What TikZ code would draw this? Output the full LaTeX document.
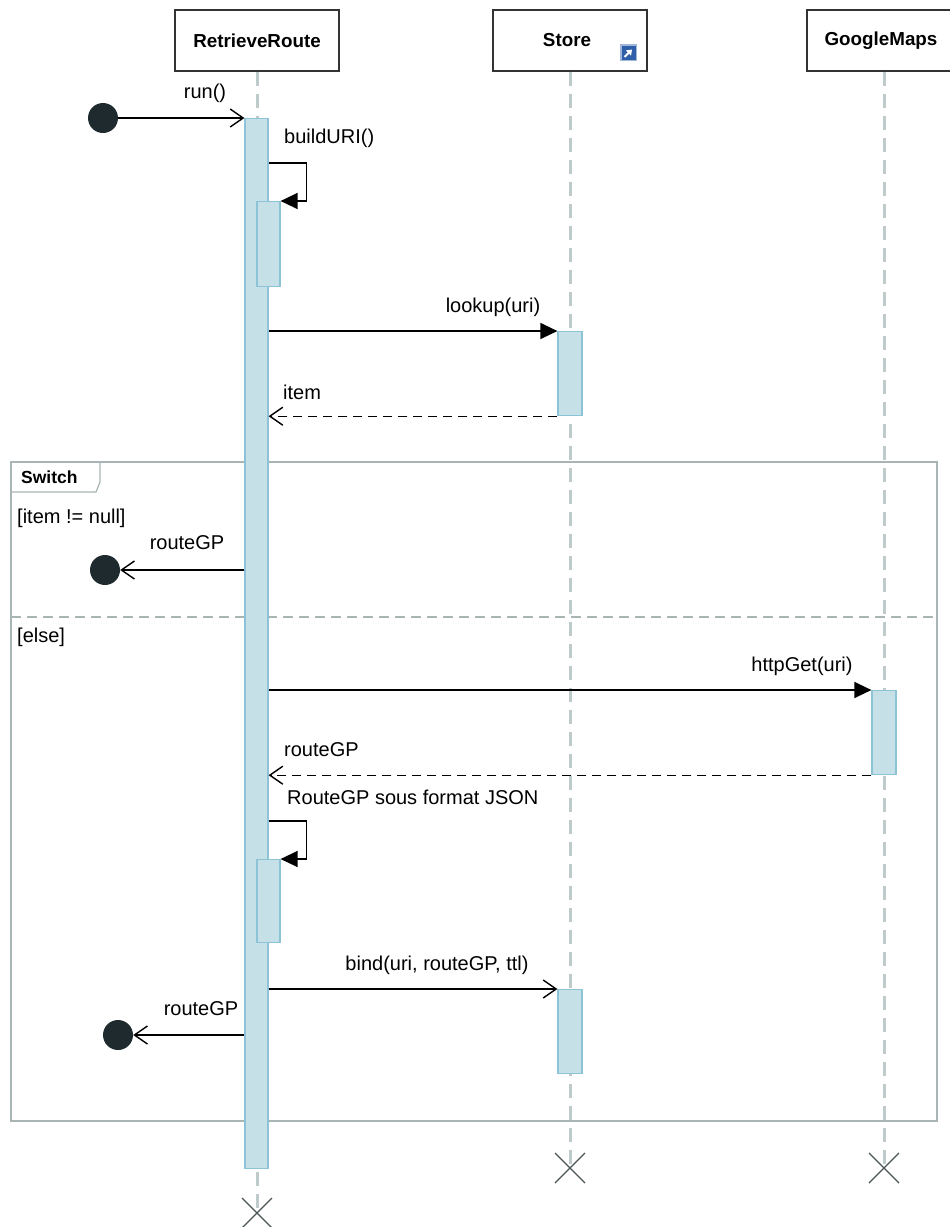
\documentclass[tikz,border=0pt]{standalone}
\usepackage{fontspec}
\setmainfont{Liberation Sans}
\usetikzlibrary{arrows.meta}
\definecolor{actfill}{HTML}{C5E1E7}
\definecolor{actdraw}{HTML}{8DC3D6}
\definecolor{lifeln}{HTML}{BFCACA}
\definecolor{framec}{HTML}{A9B5B5}
\definecolor{dotc}{HTML}{1E2A2E}
\definecolor{xc}{HTML}{4A5454}
\definecolor{iconblue}{HTML}{2E5FA8}
\begin{document}
\begin{tikzpicture}[x=1pt,y=-1pt,
  lbl/.style={font=\fontsize{20}{23}\selectfont, inner sep=0pt},
  hdr/.style={draw=black!80, line width=1.4pt, fill=white, minimum height=61pt, inner sep=0pt, font=\fontsize{18.8}{21}\selectfont\bfseries},
  lifeline/.style={draw=lifeln, line width=3pt, dash pattern=on 14pt off 8pt},
  actbox/.style={draw=actdraw, fill=actfill, line width=1.2pt, inner sep=0pt, anchor=north},
  sync/.style={draw=black, line width=1.4pt, -{Triangle[length=17pt,width=16pt]}},
  open/.style={draw=black, line width=1.4pt, -{Straight Barb[length=13pt,width=18pt,line width=1.4pt]}},
  ret/.style={open, dash pattern=on 9pt off 6pt},
  dot/.style={circle, fill=dotc, minimum size=30pt, inner sep=0pt},
  xline/.style={draw=xc, line width=1.3pt},
  frame/.style={draw=framec, line width=1.5pt}
]
\clip (0,0) rectangle (950,1227);
\fill[white] (0,0) rectangle (950,1227);

% lifeline ends
\coordinate (rrend) at (257,1213);
\coordinate (stend) at (570,1168);
\coordinate (gmend) at (884,1168);

% headers
\node[hdr, minimum width=164pt] (rr) at (257,40.5) {RetrieveRoute};
\node[hdr, minimum width=154pt] (st) at (570,40.5) {\hspace*{-6pt}Store};
\node[hdr, minimum width=154pt] (gm) at (884,40.5) {\hspace*{-6pt}GoogleMaps};

% store icon
\fill[iconblue!45!white] (620,44) rectangle (637,61);
\fill[iconblue] (621.5,45.5) rectangle (635.5,59.5);
\draw[white, line width=2pt, -{Triangle[length=5pt,width=7pt]}] (624.5,57) -- (632,49.5);

% lifelines
\draw[lifeline] (rr.south) -- (rrend);
\draw[lifeline] (st.south) -- (stend);
\draw[lifeline] (gm.south) -- (gmend);

% frame
\draw[frame] (11,462) rectangle (937,1121);
\draw[frame, line width=1.2pt] (11,492) -- (96,492) -- (100,482) -- (100,462);
\node[inner sep=0pt, anchor=west, font=\fontsize{17.5}{20}\selectfont\bfseries] (sw) at (21,477) {Switch};
\draw[framec, line width=2pt, dash pattern=on 10pt off 6pt] (11,617) -- (937,617);
\node[lbl, anchor=west] (g1t) at (17,518) {[item != null]};
\node[lbl, anchor=west] (g2t) at (17,637) {[else]};

% activations
\node[actbox, minimum width=23pt, minimum height=1050pt] (a1) at (256.5,118) {};
\node[actbox, minimum width=23pt, minimum height=85pt] (b1) at (268.5,201) {};
\node[actbox, minimum width=24pt, minimum height=84pt] (s1) at (570,331) {};
\node[actbox, minimum width=24pt, minimum height=84pt] (g1) at (884,690) {};
\node[actbox, minimum width=23pt, minimum height=83pt] (b2) at (268.5,859) {};
\node[actbox, minimum width=24pt, minimum height=84pt] (s2) at (570,989) {};

% start / end dots
\node[dot] (c0) at (103,118) {};
\node[dot] (c1) at (105,570) {};
\node[dot] (c2) at (118,1035) {};

% messages
\draw[open] (c0) -- (a1.north west);
\node[lbl] (l0) at (205,93) {run()};

\draw[sync] (a1.east |- 0,163) -- ++(38,0) |- (b1.north east);
\node[lbl, anchor=west] (l1) at (284,138) {buildURI()};

\draw[sync] (a1.east |- s1.north) -- (s1.north west);
\node[lbl] (l2) at (493,307) {lookup(uri)};

\draw[ret] (s1.south west) -- (a1.east |- s1.south);
\node[lbl, anchor=west] (l3) at (283,392) {item};

\draw[open] (a1.west |- 0,570) -- (c1);
\node[lbl] (l4) at (187,543) {routeGP};

\draw[sync] (a1.east |- g1.north) -- (g1.north west);
\node[lbl] (l5) at (802,666) {httpGet(uri)};

\draw[ret] (g1.south west) -- (a1.east |- g1.south);
\node[lbl, anchor=west] (l6) at (284,750) {routeGP};

\draw[sync] (a1.east |- 0,821) -- ++(38,0) |- (b2.north east);
\node[lbl, anchor=west] (l7) at (287,797) {RouteGP sous format JSON};

\draw[open] (a1.east |- s2.north) -- (s2.north west);
\node[lbl] (l8) at (437,965) {bind(uri, routeGP, ttl)};

\draw[open] (a1.west |- 0,1035) -- (c2);
\node[lbl] (l9) at (201,1009) {routeGP};

% destruction marks
\draw[xline] (rrend) +(-15,-15) -- +(15,15) +(-15,15) -- +(15,-15);
\draw[xline] (stend) +(-15,-15) -- +(15,15) +(-15,15) -- +(15,-15);
\draw[xline] (gmend) +(-15,-15) -- +(15,15) +(-15,15) -- +(15,-15);
\end{tikzpicture}
\end{document}
